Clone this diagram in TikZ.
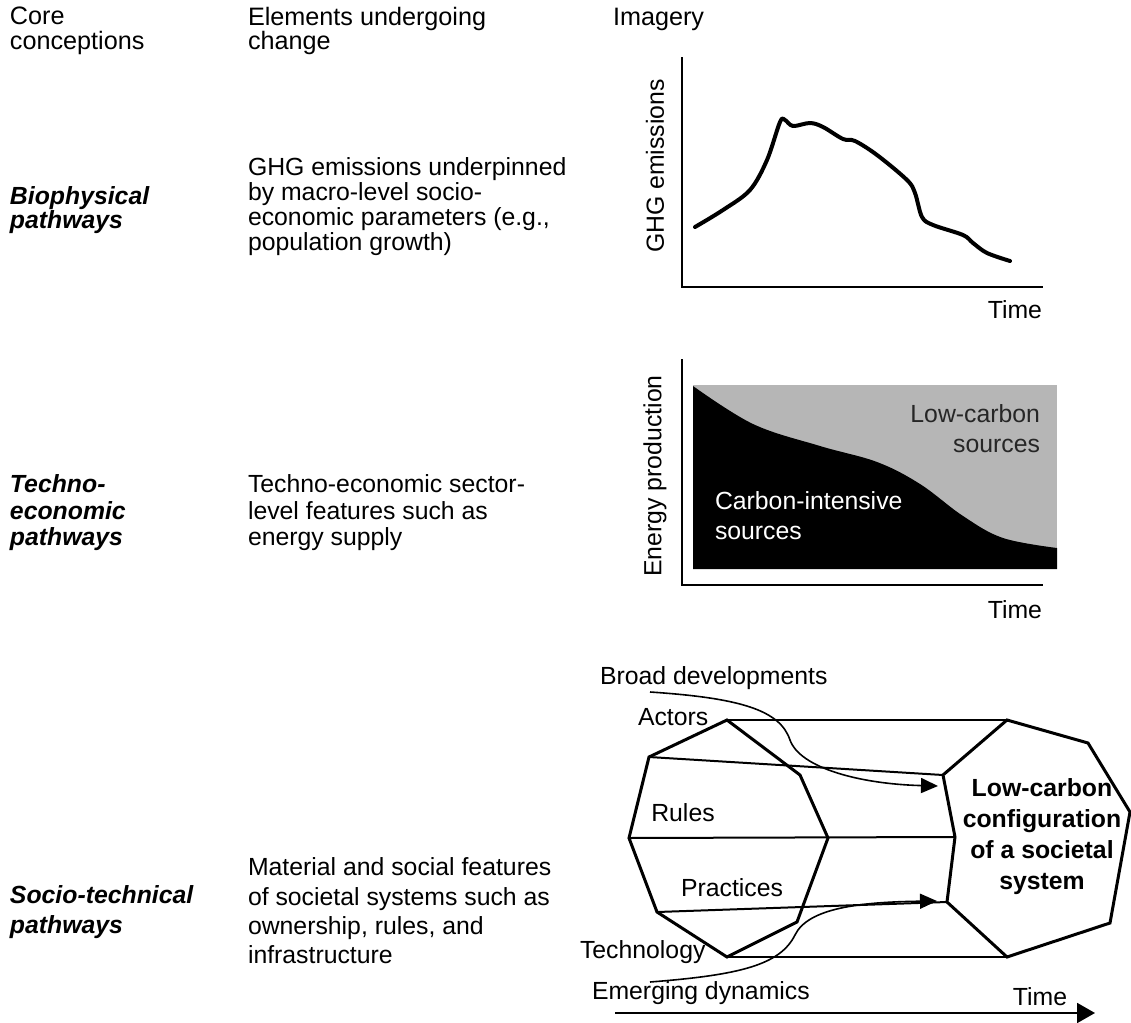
\documentclass[tikz,border=0pt]{standalone}
\usepackage{fontspec}
\setmainfont{Liberation Sans}
\usetikzlibrary{arrows.meta}
\definecolor{lowgray}{HTML}{B6B6B6}
\definecolor{darktxt}{HTML}{262626}
\begin{document}
\begin{tikzpicture}[x=0.5pt,y=-0.5pt,
  txt/.style={inner sep=0pt, outer sep=0pt, align=left, anchor=west, font=\fontsize{12.4}{#1}\selectfont},
  txt/.default=12.5,
  hd/.style={inner sep=0pt, outer sep=0pt, align=left, anchor=west, font=\fontsize{12.6}{#1}\selectfont},
  hd/.default=12.2,
  pw/.style={inner sep=0pt, outer sep=0pt, align=left, anchor=west, font=\fontsize{12.4}{#1}\selectfont\bfseries\itshape},
  lbl/.style={inner sep=0pt, outer sep=0pt, font=\fontsize{12.4}{14}\selectfont},
  axisline/.style={line width=1pt, line cap=rect},
  datacurve/.style={line width=2pt, line cap=round, line join=round},
  octa/.style={line width=1.5pt, line join=miter},
  link/.style={line width=1pt},
  flow/.style={line width=0.8pt, -{Triangle[length=8.5pt,width=7.5pt]}},
  timearrow/.style={line width=1pt, -{Triangle[length=9pt,width=10pt]}}
]
\useasboundingbox (0,0) rectangle (1131,1023);

% ---------- column headers ----------
\node[hd] (h1) at (10,31) {Core\\conceptions};
\node[hd] (h2) at (248,31) {Elements undergoing\\change};
\node[hd] (h3) at (613,19) {Imagery};

% ---------- rows: left text ----------
\node[pw=12] (p1) at (10,210) {Biophysical\\pathways};
\node[txt=12.5] (d1) at (248,207) {GHG emissions underpinned\\by macro-level socio-\\economic parameters (e.g.,\\population growth)};

\node[pw=13.25] (p2) at (10,513) {Techno-\\economic\\pathways};
\node[txt=13.25] (d2) at (248,513) {Techno-economic sector-\\level features such as\\energy supply};

\node[pw=15] (p3) at (10,912) {Socio-technical\\pathways};
\node[txt=14.7] (d3) at (248,911) {Material and social features\\of societal systems such as\\ownership, rules, and\\infrastructure};

% ---------- chart 1: GHG emissions ----------
\draw[axisline] (682,58) -- (682,287) -- (1042,287);
\node[lbl, rotate=90] (ghg) at (655,166) {GHG emissions};
\node[lbl, anchor=east] (t1) at (1042,310) {Time};
\draw[datacurve] plot[smooth, tension=0.55] coordinates {
  (695,227) (723,210) (750,190) (767,160) (780,122) (785,120) (793,126)
  (810,123) (823,127) (843,139) (855,141) (877,155) (907,180) (915,193)
  (922,217) (933,225) (963,235) (973,243) (987,253) (1010,261)};

% ---------- chart 2: energy production ----------
\fill[lowgray] (693,385) rectangle (1057,569);
\fill[black] plot[smooth, tension=0.6] coordinates {
  (693,386) (753,424) (820,446) (877,462) (920,484) (963,516) (1003,538) (1057,548)}
  -- (1057,569) -- (693,569) -- cycle;
\draw[axisline] (682,360) -- (682,585) -- (1042,585);
\node[lbl, rotate=90] (ep) at (655,476) {Energy production};
\node[lbl, anchor=east] (t2) at (1042,610) {Time};
\node[lbl, anchor=east, align=right, text=darktxt, font=\fontsize{12.4}{15}\selectfont] (lc) at (1040,429) {Low-carbon\\sources};
\node[lbl, anchor=west, align=left, text=white, font=\fontsize{12.4}{15}\selectfont] (ci) at (715,516) {Carbon-intensive\\sources};

% ---------- socio-technical diagram ----------
\coordinate (L1) at (727,720);
\coordinate (L2) at (800,775);
\coordinate (L3) at (828,838);
\coordinate (L4) at (797,922);
\coordinate (L5) at (727,957);
\coordinate (L6) at (657,912);
\coordinate (L7) at (629,838);
\coordinate (L8) at (649,757);
\coordinate (R1) at (1007,720);
\coordinate (R2) at (1088,743);
\coordinate (R3) at (1130,812);
\coordinate (R4) at (1110,923);
\coordinate (R5) at (1007,957);
\coordinate (R6) at (947,902);
\coordinate (R7) at (955,837);
\coordinate (R8) at (943,775);

\draw[link] (L1) -- (R1);
\draw[link] (L8) -- (R8);
\draw[link] (L7) -- (R7);
\draw[link] (L6) -- (R6);
\draw[link] (L5) -- (R5);

\draw[octa] (L1) -- (L2) -- (L3) -- (L4) -- (L5) -- (L6) -- (L7) -- (L8) -- cycle;
\draw[octa] (R1) -- (R2) -- (R3) -- (R4) -- (R5) -- (R6) -- (R7) -- (R8) -- cycle;

\node[lbl, anchor=west] (bd) at (600,678) {Broad developments};
\node[lbl, anchor=west] (act) at (638,717) {Actors};
\node[lbl] (rules) at (683,813) {Rules};
\node[lbl] (prac) at (732,888) {Practices};
\node[lbl, anchor=west] (tech) at (580,952) {Technology};
\node[lbl, anchor=west] (emd) at (592,993) {Emerging dynamics};
\node[lbl] (t3) at (1040,997) {Time};
\node[lbl, align=center, font=\fontsize{12.4}{15.5}\selectfont\bfseries] (goal) at (1042,837) {Low-carbon\\configuration\\of a societal\\system};

\coordinate (bdstart) at (650,692);
\coordinate (bdmid) at (790,740);
\coordinate (bdend) at (938,786);
\coordinate (edstart) at (650,982);
\coordinate (edmid) at (795,935);
\coordinate (edend) at (937,901);
\coordinate (tstart) at (615,1013);
\coordinate (tend) at (1095,1013);

\draw[flow] (bdstart) .. controls (740,698) and (780,710) .. (bdmid)
  .. controls (800,768) and (860,784) .. (bdend);
\draw[flow] (edstart) .. controls (740,975) and (780,965) .. (edmid)
  .. controls (808,908) and (860,902) .. (edend);
\draw[timearrow] (tstart) -- (tend);
\end{tikzpicture}
\end{document}
